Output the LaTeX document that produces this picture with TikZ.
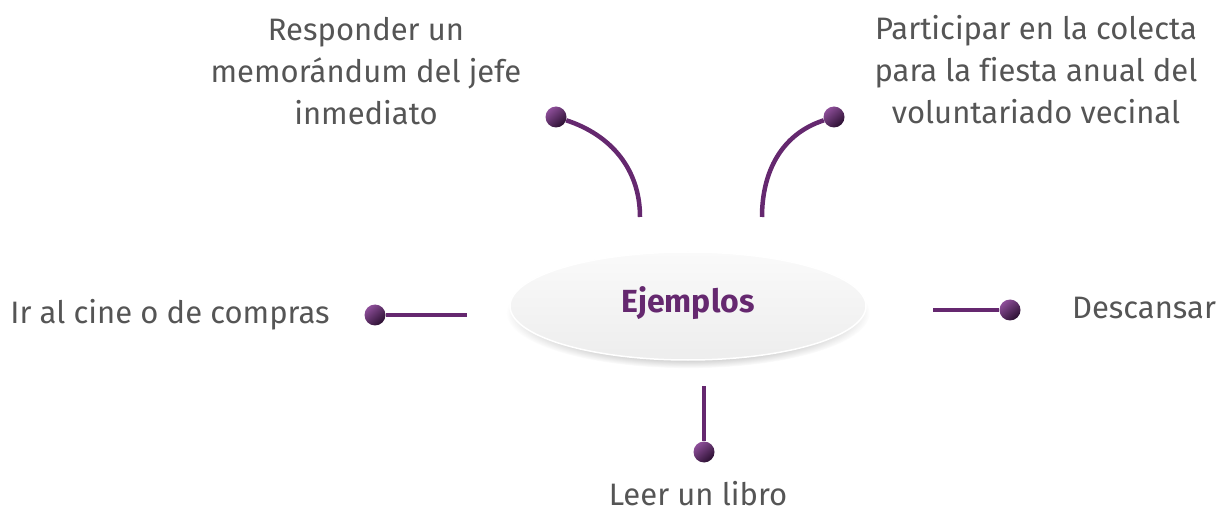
\documentclass[tikz,border=0pt]{standalone}
\usepackage{fontspec}
\setmainfont{Fira Sans}[Ligatures=NoCommon]
\usepackage{xcolor}
\usetikzlibrary{positioning, shadows, shapes.geometric}
\definecolor{ejpurple}{HTML}{65286F}
\definecolor{ejlight}{HTML}{8E4F9A}
\definecolor{ejdark}{HTML}{2A0F30}
\definecolor{ejgray}{HTML}{555555}

\begin{document}
\begin{tikzpicture}[
        x=1pt, y=1pt,
        lbl/.style={text=ejgray, font=\fontsize{31}{42}\selectfont, align=center, inner sep=0pt},
        bead/.style={circle, minimum size=21pt, inner sep=0pt, top color=ejlight, bottom color=ejdark, shading angle=40},
        stem/.style={draw=ejpurple, line width=4.5pt},
        hub/.style={ellipse, minimum width=356pt, minimum height=108pt, draw=white, line width=1.5pt, top color=black!2, bottom color=black!7, circular drop shadow={shadow xshift=0pt, shadow yshift=-7pt, shadow scale=1.02, opacity=0.35}},
      ]
        \useasboundingbox (0,0) rectangle (1221,512);
        \node[hub] (ej) at (688,206) {};
        \node[text=ejpurple, font=\fontsize{32}{38}\selectfont\bfseries] (ejt) at (688,209) {Ejemplos};
        \node[lbl] (t1) at (366,441) {Responder un\\memorándum del jefe\\inmediato};
        \node[lbl] (t2) at (1036,442) {Participar en la colecta\\para la fiesta anual del\\voluntariado vecinal};
        \node[lbl] (t3) at (170,197) {Ir al cine o de compras};
        \node[lbl] (t4) at (1144,204) {Descansar};
        \node[lbl] (t5) at (698,18) {Leer un libro};
        \coordinate (c1) at (640,295);
        \coordinate (c2) at (762,295);
        \coordinate (c3) at (467,197);
        \coordinate (c4) at (933,202);
        \coordinate (c5) at (704,126);
        \node[bead] (b1) at (556,395) {};
        \node[bead] (b2) at (834,395) {};
        \node[bead] (b3) at (375,197) {};
        \node[bead] (b4) at (1010,202) {};
        \node[bead] (b5) at (704,60) {};
        \draw[stem] (b1) to[out=-18, in=90] (c1);
        \draw[stem] (b2) to[out=198, in=90] (c2);
        \draw[stem] (b3) -- (c3);
        \draw[stem] (b4) -- (c4);
        \draw[stem] (b5) -- (c5);
      \end{tikzpicture}
\end{document}
